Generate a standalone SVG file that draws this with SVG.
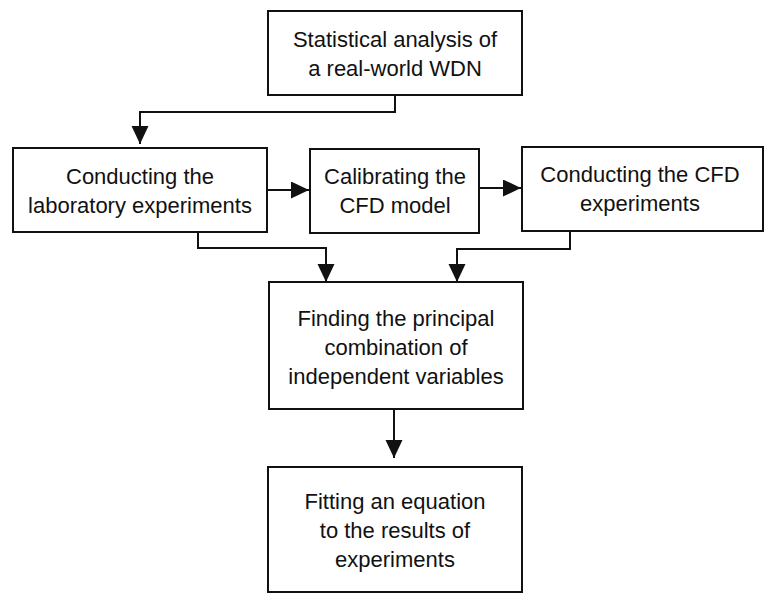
<svg xmlns="http://www.w3.org/2000/svg" width="764" height="593" viewBox="0 0 764 593">
<style>
.box{fill:#fff;stroke:#111;stroke-width:2}
.lbl{font-family:"Liberation Sans",Arial,sans-serif;font-size:22px;fill:#111;text-anchor:middle}
.con{fill:none;stroke:#111;stroke-width:2}
</style>
<defs>
<marker id="ah" markerUnits="userSpaceOnUse" markerWidth="18" markerHeight="18" refX="18" refY="8.5" orient="auto">
<path d="M0,0 L18,8.5 L0,17 z" fill="#111"/>
</marker>
</defs>
<rect width="764" height="593" fill="#fff"/>
<g id="n1">
<rect class="box" x="268" y="11" width="254" height="84"/>
<text class="lbl" x="395" y="47">Statistical analysis of</text>
<text class="lbl" x="395" y="76">a real-world WDN</text>
</g>
<g id="n2">
<rect class="box" x="13" y="148" width="254" height="84"/>
<text class="lbl" x="140" y="184">Conducting the</text>
<text class="lbl" x="140" y="213">laboratory experiments</text>
</g>
<g id="n3">
<rect class="box" x="310" y="149" width="169" height="84"/>
<text class="lbl" x="395" y="184">Calibrating the</text>
<text class="lbl" x="395" y="213">CFD model</text>
</g>
<g id="n4">
<rect class="box" x="522" y="147" width="241" height="84"/>
<text class="lbl" x="640" y="182">Conducting the CFD</text>
<text class="lbl" x="640" y="211">experiments</text>
</g>
<g id="n5">
<rect class="box" x="269" y="282" width="254" height="127"/>
<text class="lbl" x="396" y="326">Finding the principal</text>
<text class="lbl" x="396" y="355">combination of</text>
<text class="lbl" x="396" y="384">independent variables</text>
</g>
<g id="n6">
<rect class="box" x="268" y="467" width="254" height="125"/>
<text class="lbl" x="395" y="509">Fitting an equation</text>
<text class="lbl" x="395" y="538">to the results of</text>
<text class="lbl" x="395" y="567">experiments</text>
</g>
<g id="connectors">
<path class="con" d="M395,95 V112 H140 V144" marker-end="url(#ah)"/>
<path class="con" d="M267,190 H309" marker-end="url(#ah)"/>
<path class="con" d="M479,188 H521" marker-end="url(#ah)"/>
<path class="con" d="M198,232 V248 H326 V282" marker-end="url(#ah)"/>
<path class="con" d="M570,231 V249 H457 V282" marker-end="url(#ah)"/>
<path class="con" d="M394,409 V458" marker-end="url(#ah)"/>
</g>
</svg>
